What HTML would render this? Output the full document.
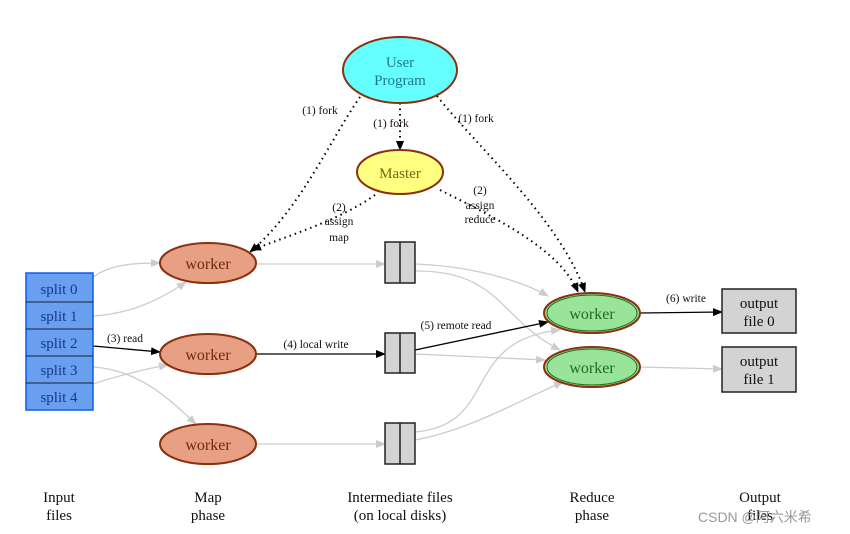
<!DOCTYPE html>
<html><head><style>body{margin:0;background:#fff}svg{display:block}text{font-family:"Liberation Serif",serif}</style></head><body>
<svg width="850" height="534" viewBox="0 0 850 534" xmlns="http://www.w3.org/2000/svg">
<defs>
<marker id="ab" markerWidth="10" markerHeight="8" refX="9" refY="4" orient="auto" markerUnits="userSpaceOnUse"><path d="M0,0 L10,4 L0,8z" fill="#000"/></marker>
<marker id="ag" markerWidth="10" markerHeight="8" refX="9" refY="4" orient="auto" markerUnits="userSpaceOnUse"><path d="M0,0 L10,4 L0,8z" fill="#ccc"/></marker>
</defs>
<g fill="none" stroke="#ccc" stroke-width="1.3" marker-end="url(#ag)">
<path d="M93,277 C110,265 130,263 160,263"/>
<path d="M93,316 C130,314 160,300 186,282"/>
<path d="M93,384 C120,375 150,368 168,365"/>
<path d="M93,367 C140,370 170,400 196,424"/>
<path d="M257,264 L385,264"/>
<path d="M257,444 L385,444"/>
<path d="M415,264 C470,266 520,280 548,296"/>
<path d="M415,271 C500,270 500,320 560,350"/>
<path d="M415,354 L545,360"/>
<path d="M415,432 C500,425 460,340 560,330"/>
<path d="M415,440 C470,430 520,400 563,382"/>
<path d="M640,367 L722,369"/>
</g>
<g fill="none" stroke="#000" stroke-width="1.3" marker-end="url(#ab)">
<path d="M93,346 L160,352"/>
<path d="M257,354 L385,354"/>
<path d="M415,350 L548,322"/>
<path d="M640,313 L722,312"/>
</g>
<g fill="none" stroke="#000" stroke-width="2" stroke-dasharray="1.5,4" marker-end="url(#ab)">
<path d="M360,97 C330,140 300,210 250,252"/>
<path d="M400,103 L400,150"/>
<path d="M437,96 C480,150 560,220 585,292"/>
<path d="M375,195 C340,220 290,235 252,250"/>
<path d="M440,190 C500,220 560,250 578,292"/>
</g>
<rect x="26" y="273" width="67" height="137" fill="#6a9ff0" stroke="#0a5ee8" stroke-width="1.5"/>
<g stroke="#123" stroke-width="1"><line x1="26" y1="302" x2="93" y2="302"/><line x1="26" y1="329" x2="93" y2="329"/><line x1="26" y1="356" x2="93" y2="356"/><line x1="26" y1="383" x2="93" y2="383"/></g>
<g font-size="15" fill="#143a8a" text-anchor="middle"><text x="59" y="294">split 0</text><text x="59" y="321">split 1</text><text x="59" y="348">split 2</text><text x="59" y="375">split 3</text><text x="59" y="402">split 4</text></g>
<g fill="#e8a084" stroke="#8b3010" stroke-width="2"><ellipse cx="208" cy="263" rx="48" ry="20"/><ellipse cx="208" cy="354" rx="48" ry="20"/><ellipse cx="208" cy="444" rx="48" ry="20"/></g>
<g font-size="16" fill="#6b2a10" text-anchor="middle"><text x="208" y="269">worker</text><text x="208" y="360">worker</text><text x="208" y="450">worker</text></g>
<g fill="#98e498" stroke="#8b3010" stroke-width="2"><ellipse cx="592" cy="313" rx="48" ry="20"/><ellipse cx="592" cy="367" rx="48" ry="20"/></g>
<g fill="none" stroke="#1f6b1f" stroke-width="1"><ellipse cx="592" cy="313" rx="45" ry="18"/><ellipse cx="592" cy="367" rx="45" ry="18"/></g>
<g font-size="16" fill="#1f6b1f" text-anchor="middle"><text x="592" y="319">worker</text><text x="592" y="373">worker</text></g>
<g fill="#d3d3d3" stroke="#222" stroke-width="1.5"><rect x="385" y="242" width="30" height="41"/><rect x="385" y="333" width="30" height="40"/><rect x="385" y="423" width="30" height="41"/>
<rect x="722" y="289" width="74" height="44"/><rect x="722" y="347" width="74" height="45"/></g>
<g stroke="#222" stroke-width="1.5"><line x1="400" y1="242" x2="400" y2="283"/><line x1="400" y1="333" x2="400" y2="373"/><line x1="400" y1="423" x2="400" y2="464"/></g>
<g font-size="15" fill="#111" text-anchor="middle"><text x="759" y="308">output</text><text x="759" y="326">file 0</text><text x="759" y="366">output</text><text x="759" y="384">file 1</text></g>
<ellipse cx="400" cy="70" rx="57" ry="33" fill="#6ff" stroke="#8b3010" stroke-width="2"/>
<text x="400" y="67" font-size="15" fill="#1a7a8a" text-anchor="middle">User</text><text x="400" y="85" font-size="15" fill="#1a7a8a" text-anchor="middle">Program</text>
<ellipse cx="400" cy="172" rx="43" ry="22" fill="#ffff80" stroke="#8b3010" stroke-width="2"/>
<text x="400" y="178" font-size="15" fill="#6b6b10" text-anchor="middle">Master</text>
<g font-size="11.5" fill="#111" text-anchor="middle">
<text x="320" y="114">(1) fork</text><text x="391" y="127">(1) fork</text><text x="476" y="122">(1) fork</text>
<text x="339" y="211">(2)</text><text x="339" y="225">assign</text><text x="339" y="241">map</text>
<text x="480" y="194">(2)</text><text x="480" y="209">assign</text><text x="480" y="223">reduce</text>
<text x="125" y="342">(3) read</text><text x="316" y="348">(4) local write</text><text x="456" y="329">(5) remote read</text><text x="686" y="302">(6) write</text>
</g>
<g font-size="15" fill="#111" text-anchor="middle">
<text x="59" y="502">Input</text><text x="59" y="520">files</text>
<text x="208" y="502">Map</text><text x="208" y="520">phase</text>
<text x="400" y="502">Intermediate files</text><text x="400" y="520">(on local disks)</text>
<text x="592" y="502">Reduce</text><text x="592" y="520">phase</text>
<text x="760" y="502">Output</text><text x="760" y="520">files</text>
</g>
<text x="698" y="522" font-size="14" fill="#999" style="font-family:'Liberation Sans','Noto Sans CJK SC',sans-serif">CSDN @阿六米希</text>
</svg>
</body></html>
